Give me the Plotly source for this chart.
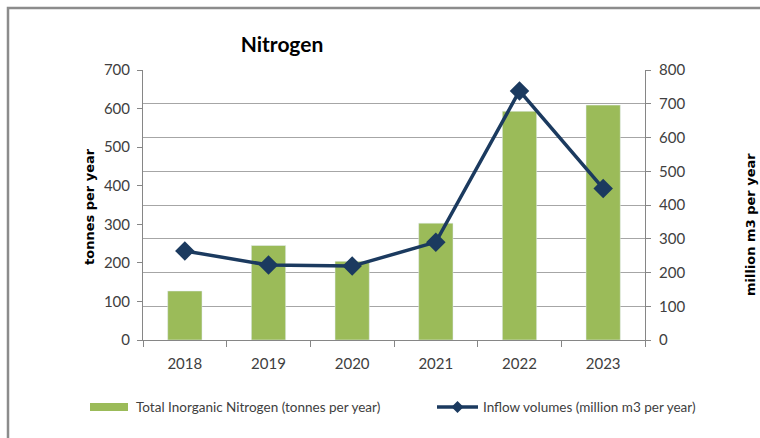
import plotly.graph_objects as go

# Данные
years = ["2018", "2019", "2020", "2021", "2022", "2023"]
nitrogen = [127, 245, 204, 303, 593, 609]  # tonnes per year
inflow = [264, 222, 219, 290, 738, 449]  # million m3 per year

bar_name = "Total Inorganic Nitrogen (tonnes per year)"
line_name = "Inflow volumes (million m3 per year)"

W, H = 760, 438
L, R, T, B = 143, 115, 70, 98  # поля в пикселях


def px(x):
    return (x - L) / (W - L - R)


def py(y):
    return (H - B - y) / (H - T - B)


green = "#9BBB59"
navy = "#1B3A5F"
font = "Lato"

fig = go.Figure()
fig.add_trace(go.Bar(x=years, y=nitrogen, name=bar_name, marker_color=green, width=0.41,
                     yaxis="y"))
fig.add_trace(go.Scatter(x=years, y=inflow, name=line_name, mode="lines+markers",
                         line=dict(color=navy, width=3.5),
                         marker=dict(symbol="diamond", size=15, color=navy), yaxis="y2"))

axis_col = "#868686"
fig.update_layout(
    width=W, height=H,
    margin=dict(l=L, r=R, t=T, b=B),
    paper_bgcolor="white", plot_bgcolor="white",
    font=dict(family=font, size=15, color="#404040"),
    showlegend=False,
    title=dict(text="<b>Nitrogen</b>", x=282 / W, xanchor="center", y=1 - 45 / H,
               yanchor="middle", font=dict(family=font, size=21, color="black")),
    xaxis=dict(showline=True, linecolor=axis_col, linewidth=1, ticks="outside",
               tickson="boundaries", ticklen=6, tickcolor=axis_col, showgrid=False,
               ticklabelstandoff=10),
    yaxis=dict(range=[0, 700], dtick=100, showline=True, linecolor=axis_col,
               ticks="outside", ticklen=5, tickcolor=axis_col, showgrid=False,
               zeroline=False, ticklabelstandoff=4),
    yaxis2=dict(range=[0, 800], dtick=100, overlaying="y", side="right",
                showline=True, linecolor=axis_col, ticks="outside", ticklen=5,
                tickcolor=axis_col, showgrid=True, gridcolor="#A6A6A6", zeroline=False,
                ticklabelstandoff=5),
)

# подписи осей
fig.add_annotation(text="<b>tonnes per year</b>", textangle=-90, xref="paper", yref="paper",
                   x=px(89), y=py(207), xanchor="center", yanchor="middle", showarrow=False,
                   font=dict(family="DejaVu Sans", size=13, color="black"))
fig.add_annotation(text="<b>million m3 per year</b>", textangle=-90, xref="paper", yref="paper",
                   x=px(750), y=py(225), xanchor="center", yanchor="middle", showarrow=False,
                   font=dict(family="DejaVu Sans", size=13, color="black"))

# рамка и белая заглушка над верхней линией сетки
fig.add_shape(type="rect", xref="paper", yref="paper", x0=px(8), x1=px(790), y0=py(8),
              y1=py(470), line=dict(color="#8C8C8C", width=2.5), layer="above")
fig.add_shape(type="rect", xref="paper", yref="paper", x0=px(144), x1=px(421), y0=py(68),
              y1=py(72), fillcolor="white", line=dict(width=0), layer="above")

# легенда
ly = 407
fig.add_shape(type="rect", xref="paper", yref="paper", x0=px(90), x1=px(128),
              y0=py(ly - 4), y1=py(ly + 4), fillcolor=green, line=dict(width=0))
fig.add_annotation(text=bar_name, xref="paper", yref="paper", x=px(134), y=py(ly),
                   xanchor="left", yanchor="middle", showarrow=False,
                   font=dict(family=font, size=13.5))
fig.add_shape(type="line", xref="paper", yref="paper", x0=px(437), x1=px(478),
              y0=py(ly), y1=py(ly), line=dict(color=navy, width=3.5))
cx, d = 457.5, 6
fig.add_shape(type="path", xref="paper", yref="paper", fillcolor=navy, line=dict(width=0),
              path=f"M {px(cx - d)},{py(ly)} L {px(cx)},{py(ly - d)} "
                   f"L {px(cx + d)},{py(ly)} L {px(cx)},{py(ly + d)} Z")
fig.add_annotation(text=line_name, xref="paper", yref="paper", x=px(481), y=py(ly),
                   xanchor="left", yanchor="middle", showarrow=False,
                   font=dict(family=font, size=13.5))

fig.write_html("out.html", config={"displayModeBar": False},
               post_script="document.body.style.margin='0';")
